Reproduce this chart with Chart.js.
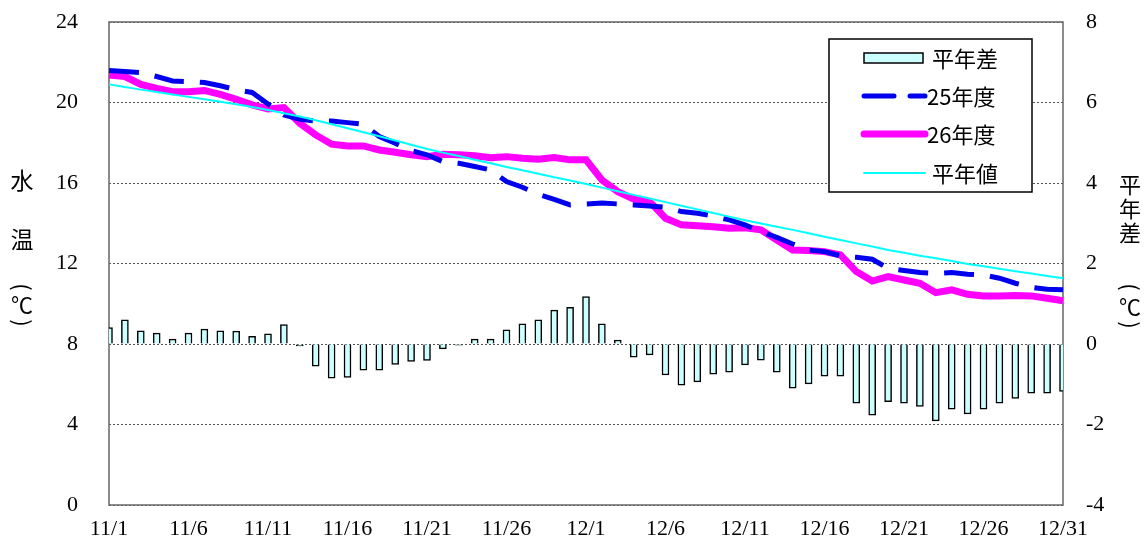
<!DOCTYPE html>
<html>
<head>
<meta charset="utf-8">
<script src="https://cdn.jsdelivr.net/npm/chart.js@4"></script>
<style>
  html, body { margin: 0; background: #fff; }
  #wrap { width: 1146px; height: 538px; position: relative; }
</style>
</head>
<body>
<div id="wrap"><canvas id="c"></canvas></div>
<script>
// water temperature, 11/1 - 12/31
const dates = [
  '11/1','11/2','11/3','11/4','11/5','11/6','11/7','11/8','11/9','11/10',
  '11/11','11/12','11/13','11/14','11/15','11/16','11/17','11/18','11/19','11/20',
  '11/21','11/22','11/23','11/24','11/25','11/26','11/27','11/28','11/29','11/30',
  '12/1','12/2','12/3','12/4','12/5','12/6','12/7','12/8','12/9','12/10',
  '12/11','12/12','12/13','12/14','12/15','12/16','12/17','12/18','12/19','12/20',
  '12/21','12/22','12/23','12/24','12/25','12/26','12/27','12/28','12/29','12/30',
  '12/31'
];
const tickDates = ['11/1','11/6','11/11','11/16','11/21','11/26','12/1','12/6','12/11','12/16','12/21','12/26','12/31'];

// 平年差 (right axis, ℃)
const diffNormal = [
  0.41, 0.60, 0.33, 0.27, 0.12, 0.27, 0.37, 0.33, 0.32, 0.19,
  0.25, 0.48, -0.05, -0.55, -0.85, -0.83, -0.65, -0.65, -0.51, -0.43,
  -0.41, -0.12, -0.03, 0.12, 0.12, 0.35, 0.50, 0.60, 0.84, 0.91,
  1.18, 0.50, 0.10, -0.33, -0.27, -0.77, -1.02, -0.94, -0.75, -0.70,
  -0.52, -0.40, -0.70, -1.10, -0.99, -0.80, -0.80, -1.47, -1.77, -1.43,
  -1.47, -1.55, -1.91, -1.62, -1.74, -1.62, -1.47, -1.35, -1.22, -1.22,
  -1.18
];
// 25年度 (left axis)
const temp25 = [
  21.59, 21.54, 21.49, 21.29, 21.07, 21.04, 20.99, 20.83, 20.63, 20.50,
  19.93, 19.38, 19.17, 19.08, 19.08, 19.00, 18.92, 18.31, 17.98, 17.61,
  17.40, 17.06, 16.98, 16.82, 16.65, 16.07, 15.79, 15.44, 15.19, 14.91,
  14.96, 15.00, 14.96, 14.91, 14.86, 14.80, 14.58, 14.50, 14.36, 14.17,
  13.92, 13.58, 13.30, 12.97, 12.67, 12.59, 12.38, 12.31, 12.21, 11.76,
  11.65, 11.55, 11.51, 11.55, 11.47, 11.43, 11.27, 11.02, 10.82, 10.72,
  10.69
];
// 26年度
const temp26 = [
  21.37, 21.29, 20.90, 20.70, 20.54, 20.54, 20.60, 20.40, 20.16, 19.88,
  19.68, 19.75, 18.97, 18.39, 17.93, 17.84, 17.84, 17.64, 17.53, 17.40,
  17.31, 17.43, 17.40, 17.35, 17.26, 17.31, 17.23, 17.18, 17.26, 17.15,
  17.15, 16.15, 15.57, 15.20, 15.08, 14.25, 13.92, 13.87, 13.83, 13.75,
  13.78, 13.67, 13.17, 12.67, 12.64, 12.59, 12.43, 11.60, 11.13, 11.35,
  11.18, 11.02, 10.55, 10.69, 10.47, 10.39, 10.39, 10.41, 10.39, 10.27,
  10.15
];
// 平年値
const tempNormal = [
  20.90, 20.77, 20.64, 20.52, 20.40, 20.28, 20.16, 20.04, 19.91, 19.78,
  19.63, 19.47, 19.30, 19.12, 18.92, 18.72, 18.52, 18.32, 18.11, 17.90,
  17.69, 17.51, 17.34, 17.16, 16.98, 16.80, 16.63, 16.46, 16.29, 16.12,
  15.95, 15.77, 15.59, 15.41, 15.23, 15.05, 14.87, 14.69, 14.51, 14.33,
  14.15, 13.99, 13.83, 13.67, 13.50, 13.33, 13.17, 13.00, 12.84, 12.67,
  12.53, 12.39, 12.26, 12.12, 11.98, 11.86, 11.74, 11.62, 11.50, 11.38,
  11.27
];

const SERIF = '"Liberation Serif", "Times New Roman", serif';
const GOTHIC = '"Noto Sans CJK JP", "Noto Sans", sans-serif';

// solid frame around the plot area (grid lines are dotted)
const frame = {
  id: 'frame',
  beforeDatasetsDraw(chart) {
    const { ctx, chartArea: a } = chart;
    ctx.save();
    ctx.strokeStyle = '#666';
    ctx.lineWidth = 1.5;
    ctx.strokeRect(a.left, a.top, a.right - a.left, a.bottom - a.top);
    ctx.restore();
  },
};

// vertical axis titles, one character per row; brackets turned 90deg
const axisTitles = {
  id: 'axisTitles',
  afterDraw(chart) {
    const { ctx } = chart;
    ctx.save();
    ctx.fillStyle = '#000';
    ctx.textAlign = 'center';
    ctx.textBaseline = 'middle';
    const put = (ch, x, y, size) => { ctx.font = size + 'px ' + GOTHIC; ctx.fillText(ch, x, y); };
    const turned = (ch, x, y, size) => {
      ctx.save();
      ctx.translate(x, y);
      ctx.rotate(Math.PI / 2);
      ctx.font = size + 'px ' + GOTHIC;
      ctx.fillText(ch, 0, 0);
      ctx.restore();
    };
    put('水', 22, 180, 23);
    put('温', 22, 239, 23);
    turned('(', 22, 287, 22);
    put('℃', 22, 305, 22);
    turned(')', 22, 323, 22);
    put('平', 1130, 185, 22);
    put('年', 1130, 209, 22);
    put('差', 1130, 233, 22);
    turned('(', 1130, 287, 22);
    put('℃', 1130, 307, 22);
    turned(')', 1130, 325, 22);
    ctx.restore();
  },
};

// boxed legend in the top right, drawn from the dataset styles
const boxLegend = {
  id: 'boxLegend',
  afterDraw(chart) {
    const { ctx } = chart;
    const ds = chart.data.datasets;
    ctx.save();
    ctx.fillStyle = '#fff';
    ctx.fillRect(829, 39, 203, 153);
    ctx.strokeStyle = '#000';
    ctx.lineWidth = 1.5;
    ctx.strokeRect(829, 39, 203, 153);
    const rows = [58, 96, 134, 173];
    ds.forEach((d, i) => {
      const y = rows[i];
      if (d.type === 'bar') {
        ctx.fillStyle = d.backgroundColor;
        ctx.fillRect(864, y - 5, 59, 10);
        ctx.lineWidth = d.borderWidth;
        ctx.strokeStyle = d.borderColor;
        ctx.strokeRect(864, y - 5, 59, 10);
      } else {
        ctx.beginPath();
        ctx.setLineDash(d.borderDash || []);
        ctx.lineWidth = d.borderWidth;
        ctx.strokeStyle = d.borderColor;
        ctx.lineCap = 'round';
        ctx.moveTo(864, y);
        ctx.lineTo(925, y);
        ctx.stroke();
        ctx.setLineDash([]);
      }
      ctx.fillStyle = '#000';
      ctx.font = '22px ' + GOTHIC;
      ctx.textAlign = 'left';
      ctx.textBaseline = 'middle';
      ctx.fillText(d.label, /^\d/.test(d.label) ? 927 : 932, y + 1);
    });
    ctx.restore();
  },
};

const tickFont = { family: SERIF, size: 22 };
// keep the tick-label overflow from shrinking the plot area
const noPad = (s) => { s.paddingTop = 0; s.paddingBottom = 0; };

new Chart(document.getElementById('c').getContext('2d'), {
  type: 'bar',
  data: {
    labels: dates,
    datasets: [
      { type: 'bar', label: '平年差', data: diffNormal, yAxisID: 'y2',
        backgroundColor: '#ccffff', borderColor: '#000', borderWidth: 1.5,
        barThickness: 7, order: 3, clip: 0 },
      { type: 'line', label: '25年度', data: temp25, yAxisID: 'y',
        borderColor: '#0000ee', borderWidth: 5, borderDash: [30, 16],
        pointRadius: 0, order: 1 },
      { type: 'line', label: '26年度', data: temp26, yAxisID: 'y',
        borderColor: '#ff00ff', borderWidth: 7, pointRadius: 0, order: 2 },
      { type: 'line', label: '平年値', data: tempNormal, yAxisID: 'y',
        borderColor: '#00ffff', borderWidth: 2, pointRadius: 0, order: 0 },
    ],
  },
  options: {
    animation: false,
    responsive: true,
    maintainAspectRatio: false,
    layout: { padding: { top: 22, left: 0, right: 0, bottom: 0 } },
    plugins: { legend: { display: false }, tooltip: { enabled: false } },
    scales: {
      x: {
        type: 'category',
        offset: false,
        grid: { display: false, offset: false },
        border: { display: false },
        ticks: {
          autoSkip: false, maxRotation: 0, minRotation: 0, padding: 3,
          color: '#000', font: tickFont,
          callback(v) { const l = this.getLabelForValue(v); return tickDates.includes(l) ? l : ''; },
        },
        afterFit(s) { s.height = 33; },
      },
      y: {
        position: 'left', min: 0, max: 24,
        ticks: { stepSize: 4, padding: 31, color: '#000', font: tickFont },
        grid: { color: '#555', lineWidth: 1, drawTicks: false },
        border: { display: false, dash: [2, 2] },
        afterFit(s) { s.width = 109; noPad(s); },
      },
      y2: {
        position: 'right', min: -4, max: 8,
        ticks: { stepSize: 2, padding: 23, color: '#000', font: tickFont },
        grid: { drawOnChartArea: false, drawTicks: false },
        border: { display: false },
        afterFit(s) { s.width = 83; noPad(s); },
      },
    },
  },
  plugins: [frame, axisTitles, boxLegend],
});
</script>
</body>
</html>
